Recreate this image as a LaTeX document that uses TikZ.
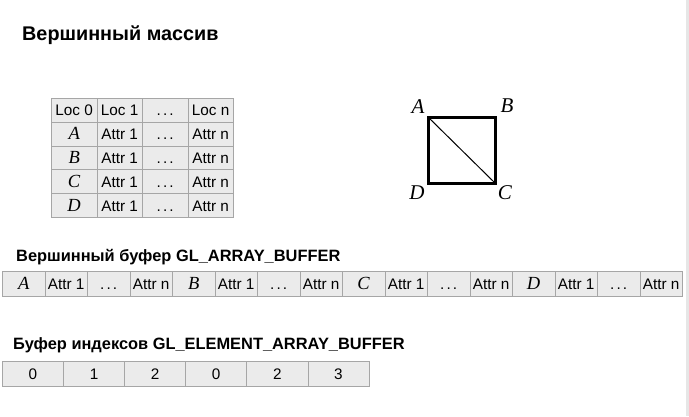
\documentclass[tikz,border=0pt]{standalone}
\usepackage{fontspec}
\setmainfont{Liberation Sans}
\newfontfamily\timesf{Liberation Serif}
\definecolor{cellfill}{HTML}{EBEBEB}
\definecolor{cellline}{HTML}{A6A6A6}
\definecolor{edgestrip}{HTML}{E6E6E6}
\newcommand{\lett}[1]{{\fontsize{18.5}{18.5}\selectfont\timesf\itshape #1}}
\newcommand{\mydots}{.\hspace{2.2pt}.\hspace{2.2pt}.}
\begin{document}
\begin{tikzpicture}[x=1pt,y=-1pt,
  cell/.style={draw=cellline, fill=cellfill, line width=0.8pt, inner sep=0pt, anchor=north west,
    text height=11pt, text depth=0pt, font=\fontsize{15.3}{15.3}\selectfont},
  tcell/.style={cell, minimum width=45.5pt, minimum height=23.8pt},
  bcell/.style={cell, minimum width=42.5pt, minimum height=25pt},
  icell/.style={cell, minimum width=61.1pt, minimum height=25pt},
  heading/.style={anchor=base west, inner sep=0pt, font=\fontsize{16.4}{16.4}\selectfont\bfseries},
  vlabel/.style={inner sep=0pt, font=\fontsize{21}{21}\selectfont\timesf\itshape},
  edge/.style={line width=3pt, line cap=rect},
  diag/.style={line width=1pt}]
\useasboundingbox (0,0) rectangle (689,416);
\fill[white] (0,0) rectangle (689,416);
\fill[edgestrip] (686,0) rectangle (689,416);

% title
\node[anchor=base west, inner sep=0pt, font=\fontsize{19.8}{19.8}\selectfont\bfseries] (title) at (22,40) {Вершинный массив};

% vertex table
\foreach \c/\txt in {0/Loc 0,1/Loc 1,2/\mydots,3/Loc n}
  \node[tcell] (t-0-\c) at ({51+45.5*\c},98) {\txt};
\foreach \r/\L in {1/A,2/B,3/C,4/D}{
  \node[tcell] (t-\r-0) at (51,{98+23.8*\r}) {\lett{\L}};
  \node[tcell] (t-\r-1) at ({51+45.5},{98+23.8*\r}) {Attr 1};
  \node[tcell] (t-\r-2) at ({51+45.5*2},{98+23.8*\r}) {\mydots};
  \node[tcell] (t-\r-3) at ({51+45.5*3},{98+23.8*\r}) {Attr n};
}

% square
\coordinate (A) at (428,117);
\coordinate (B) at (495,117);
\coordinate (C) at (495,183);
\coordinate (D) at (428,183);
\draw[edge] (A) -- (B) -- (C) -- (D) -- cycle;
\draw[diag] (A) -- (C);
\node[vlabel] (lA) at (418,107) {A};
\node[vlabel] (lB) at (507,106) {B};
\node[vlabel] (lC) at (505,193) {C};
\node[vlabel] (lD) at (417,193) {D};

% vertex buffer
\node[heading] (h2) at (16,261) {Вершинный буфер GL\_ARRAY\_BUFFER};
\foreach \L [count=\i from 0] in {A,B,C,D}{
  \node[bcell] (b-\i-0) at ({2+42.5*(4*\i)},271) {\lett{\L}};
  \node[bcell] (b-\i-1) at ({2+42.5*(4*\i+1)},271) {Attr 1};
  \node[bcell] (b-\i-2) at ({2+42.5*(4*\i+2)},271) {\mydots};
  \node[bcell] (b-\i-3) at ({2+42.5*(4*\i+3)},271) {Attr n};
}

% index buffer
\node[heading] (h3) at (13,349) {Буфер индексов GL\_ELEMENT\_ARRAY\_BUFFER};
\foreach \v [count=\i from 0] in {0,1,2,0,2,3}
  \node[icell] (i-\i) at ({2+61.1*\i},361) {\v};
\end{tikzpicture}
\end{document}
